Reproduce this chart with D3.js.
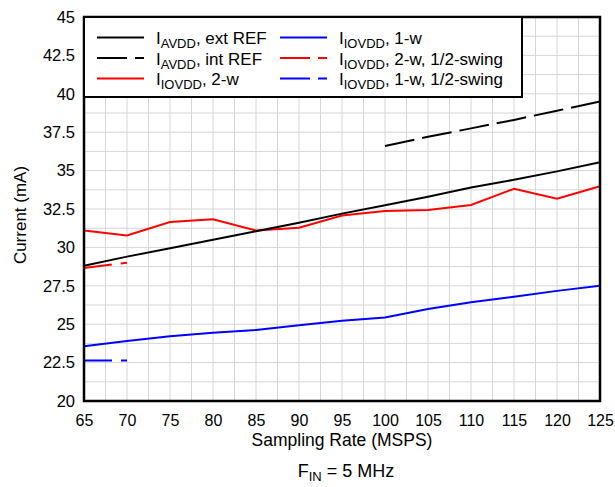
<!DOCTYPE html>
<html><head><meta charset="utf-8">
<script src="https://cdn.jsdelivr.net/npm/d3@7"></script>
<style>body{margin:0;background:#fff}svg{font-family:"Liberation Sans",Arial,sans-serif}</style>
</head><body><svg id="c" width="615" height="487"></svg>
<script>
const rates = [65,70,75,80,85,90,95,100,105,110,115,120,125];
const avddExt = [28.8,29.4,29.95,30.5,31.05,31.6,32.2,32.75,33.3,33.9,34.4,34.95,35.55];
const avddIntRates = [100,105,110,115,120,125];
const avddInt = [36.6,37.2,37.75,38.3,38.9,39.5];
const iov2w = [31.1,30.78,31.65,31.83,31.1,31.28,32.07,32.37,32.43,32.76,33.82,33.17,33.98];
const iov1w = [23.57,23.9,24.21,24.45,24.63,24.93,25.22,25.44,25.99,26.43,26.78,27.17,27.5];
const halfRates = [65,70];
const iov2wHalf = [28.66,29.0];
const iov1wHalf = [22.63,22.63];
const yTicks = [20,22.5,25,27.5,30,32.5,35,37.5,40,42.5,45];
const xTicks = [65,70,75,80,85,90,95,100,105,110,115,120,125];

const svg = d3.select("#c");
const L=84,R=600,T=17,B=401;
const x = d3.scaleLinear().domain([65,125]).range([L,R]);
const y = d3.scaleLinear().domain([20,45]).range([B,T]);

// grid
const g = svg.append("g");
g.selectAll(".vx").data(d3.range(65,125.01,2.5)).join("line")
  .attr("x1",d=>x(d)).attr("x2",d=>x(d)).attr("y1",T).attr("y2",B)
  .attr("stroke","#d6d6d6").attr("stroke-width",1);
g.selectAll(".hy").data(d3.range(20,45.01,1.25)).join("line")
  .attr("y1",d=>y(d)).attr("y2",d=>y(d)).attr("x1",L).attr("x2",R)
  .attr("stroke","#d6d6d6").attr("stroke-width",1);

// axes labels
const xa = svg.append("g").attr("transform",`translate(0,${B})`)
  .call(d3.axisBottom(x).tickValues(xTicks).tickSize(0).tickPadding(13.6).tickFormat(d3.format("d")));
xa.select(".domain").remove();
xa.selectAll("text").attr("font-size",16).attr("fill","#000").attr("font-family","Liberation Sans, Arial, sans-serif");
const ya = svg.append("g").attr("transform",`translate(${L},0)`)
  .call(d3.axisLeft(y).tickValues(yTicks).tickSize(0).tickPadding(9).tickFormat(d=>String(d)));
ya.select(".domain").remove();
ya.selectAll("text").attr("font-size",16.5).attr("fill","#000").attr("font-family","Liberation Sans, Arial, sans-serif");

// lines
const line = d3.line().x(d=>x(d[0])).y(d=>y(d[1]));
function draw(xs, ys, color, dash){
  svg.append("path").datum(xs.map((v,i)=>[v,ys[i]])).attr("d",line)
    .attr("fill","none").attr("stroke",color).attr("stroke-width",2)
    .attr("stroke-dasharray",dash||null);
}
draw(rates, iov1w, "#0000ff");
draw(rates, iov2w, "#ff0000");
draw(rates, avddExt, "#000");
draw(avddIntRates, avddInt, "#000", "30,8");
draw(halfRates, iov2wHalf, "#ff0000", "28,9");
draw(halfRates, iov1wHalf, "#0000ff", "28,9");

// frame
svg.append("rect").attr("x",L).attr("y",T).attr("width",R-L).attr("height",B-T)
  .attr("fill","none").attr("stroke","#000").attr("stroke-width",2.5);

// legend
const leg = svg.append("g");
leg.append("rect").attr("x",L).attr("y",T).attr("width",438).attr("height",80)
  .attr("fill","#fff").attr("stroke","#000").attr("stroke-width",2);
const items = [
  {sub:"AVDD",txt:", ext REF",c:"#000",d:null,col:0,row:0},
  {sub:"AVDD",txt:", int REF",c:"#000",d:"30,8",col:0,row:1},
  {sub:"IOVDD",txt:", 2-w",c:"#ff0000",d:null,col:0,row:2},
  {sub:"IOVDD",txt:", 1-w",c:"#0000ff",d:null,col:1,row:0},
  {sub:"IOVDD",txt:", 2-w, 1/2-swing",c:"#ff0000",d:"30,8",col:1,row:1},
  {sub:"IOVDD",txt:", 1-w, 1/2-swing",c:"#0000ff",d:"30,8",col:1,row:2}
];
const colX=[97,280], rowY=[37.5,58,78.5];
items.forEach(it=>{
  const lx=colX[it.col], ly=rowY[it.row];
  leg.append("line").attr("x1",lx).attr("x2",lx+47).attr("y1",ly).attr("y2",ly)
    .attr("stroke",it.c).attr("stroke-width",2).attr("stroke-dasharray",it.d);
  const t = leg.append("text").attr("x",lx+59).attr("y",ly+6.5).attr("font-size",17).attr("fill","#000");
  t.append("tspan").text("I");
  t.append("tspan").attr("font-size",13).attr("dy",4).text(it.sub);
  t.append("tspan").attr("dy",-4).text(it.txt);
});

// axis titles
svg.append("text").attr("x",(L+R)/2).attr("y",446).attr("text-anchor","middle")
  .attr("font-size",17.5).text("Sampling Rate (MSPS)");
svg.append("text").attr("transform",`translate(26,${(T+B)/2+6}) rotate(-90)`).attr("text-anchor","middle")
  .attr("font-size",17).text("Current (mA)");
const f = svg.append("text").attr("x",(L+R)/2+4).attr("y",477).attr("text-anchor","middle").attr("font-size",18);
f.append("tspan").text("F");
f.append("tspan").attr("font-size",13).attr("dy",4).text("IN");
f.append("tspan").attr("dy",-4).text(" = 5 MHz");
</script></body></html>
